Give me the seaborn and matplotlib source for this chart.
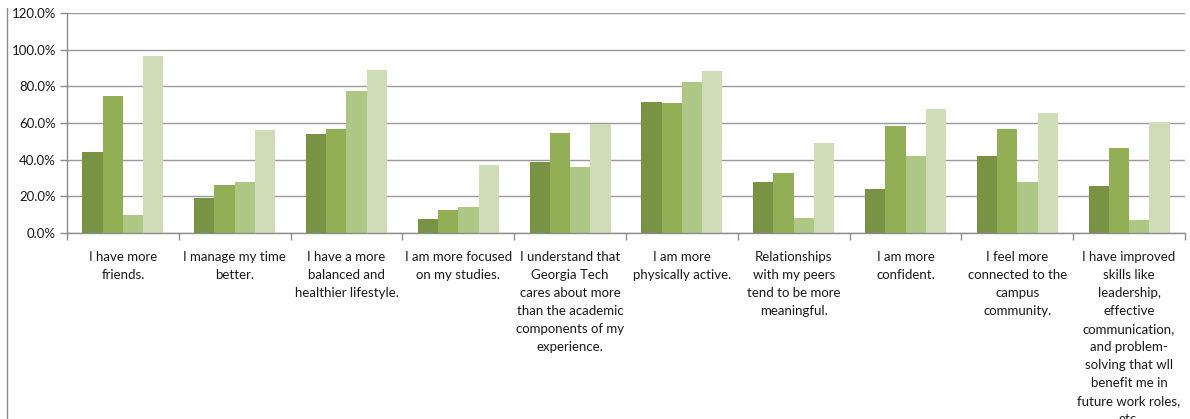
import matplotlib
matplotlib.use("Agg")
import matplotlib.pyplot as plt
from matplotlib.lines import Line2D
from matplotlib.ticker import MultipleLocator, FuncFormatter
import seaborn as sns
import pandas as pd

# Statements shown on the category axis (line breaks as laid out under each group)
categories = [
    "I have more\nfriends.",
    "I manage my time\nbetter.",
    "I have a more\nbalanced and\nhealthier lifestyle.",
    "I am more focused\non my studies.",
    "I understand that\nGeorgia Tech\ncares about more\nthan the academic\ncomponents of my\nexperience.",
    "I am more\nphysically active.",
    "Relationships\nwith my peers\ntend to be more\nmeaningful.",
    "I am more\nconfident.",
    "I feel more\nconnected to the\ncampus\ncommunity.",
    "I have improved\nskills like\nleadership,\neffective\ncommunication,\nand problem-\nsolving that wll\nbenefit me in\nfuture work roles,\netc.",
]

# Percent agreeing, one list per group
series_names = ["Group 1", "Group 2", "Group 3", "Group 4"]
group_1 = [44.4, 19.3, 54.2, 7.8, 38.9, 71.6, 28.0, 24.2, 42.2, 25.8]
group_2 = [74.9, 26.4, 56.9, 12.7, 54.7, 71.1, 32.9, 58.5, 56.9, 46.5]
group_3 = [10.0, 28.0, 77.6, 14.4, 36.2, 82.5, 8.4, 42.2, 28.0, 7.3]
group_4 = [96.7, 56.4, 89.1, 37.3, 59.6, 88.5, 49.3, 67.8, 65.6, 60.7]

palette = ["#799243", "#92AF55", "#AEC784", "#CFDCB8"]

rows = []
for name, vals in zip(series_names, [group_1, group_2, group_3, group_4]):
    for cat, v in zip(categories, vals):
        rows.append({"statement": cat, "series": name, "pct": v})
df = pd.DataFrame(rows)

sns.set_theme(style="white")
plt.rcParams["font.family"] = ["Lato", "DejaVu Sans"]

fig = plt.figure(figsize=(11.9, 4.19), dpi=100)
ax = fig.add_axes([0.0563, 0.4439, 0.9395, 0.5251])

sns.barplot(data=df, x="statement", y="pct", hue="series", order=categories,
            hue_order=series_names, palette=palette, width=0.725, gap=0,
            saturation=1, legend=False, ax=ax, errorbar=None)

for p in ax.patches:
    p.set_edgecolor("none")
    p.set_linewidth(0)

ax.set_ylim(0, 120)
ax.set_xlim(-0.5, len(categories) - 0.5)
ax.yaxis.set_major_locator(MultipleLocator(20))
ax.yaxis.set_major_formatter(FuncFormatter(lambda v, _: f"{v:.1f}%"))
ax.grid(axis="y", color="#9A9A9A", linewidth=1.0)
ax.set_axisbelow(True)

for side in ("top", "right"):
    ax.spines[side].set_visible(False)
for side in ("left", "bottom"):
    ax.spines[side].set_color("#8C8C8C")
    ax.spines[side].set_linewidth(1.0)

ax.set_xlabel("")
ax.set_ylabel("")

# Category ticks sit between the groups; labels are centred under each group
ax.set_xticks([i + 0.5 for i in range(-1, len(categories))], minor=False)
ax.set_xticklabels([])
ax.set_xticks(range(len(categories)), minor=True)
ax.set_xticklabels(categories, minor=True, fontsize=9.5, color="#1A1A1A",
                   linespacing=1.6, va="top", ha="center")
ax.tick_params(axis="x", which="major", length=5, width=1, color="#8C8C8C",
               direction="out", bottom=True)
ax.tick_params(axis="x", which="minor", length=0, pad=13)
ax.tick_params(axis="y", length=5, width=1, color="#8C8C8C", direction="out",
               left=True, labelsize=9.5, labelcolor="#1A1A1A", pad=3)

# Outer chart border on the left edge
fig.add_artist(Line2D([7 / 1190, 7 / 1190], [0, 1 - 8 / 419],
                      transform=fig.transFigure, color="#8C8C8C", linewidth=1.0))

fig.savefig("out.png", dpi=100)
